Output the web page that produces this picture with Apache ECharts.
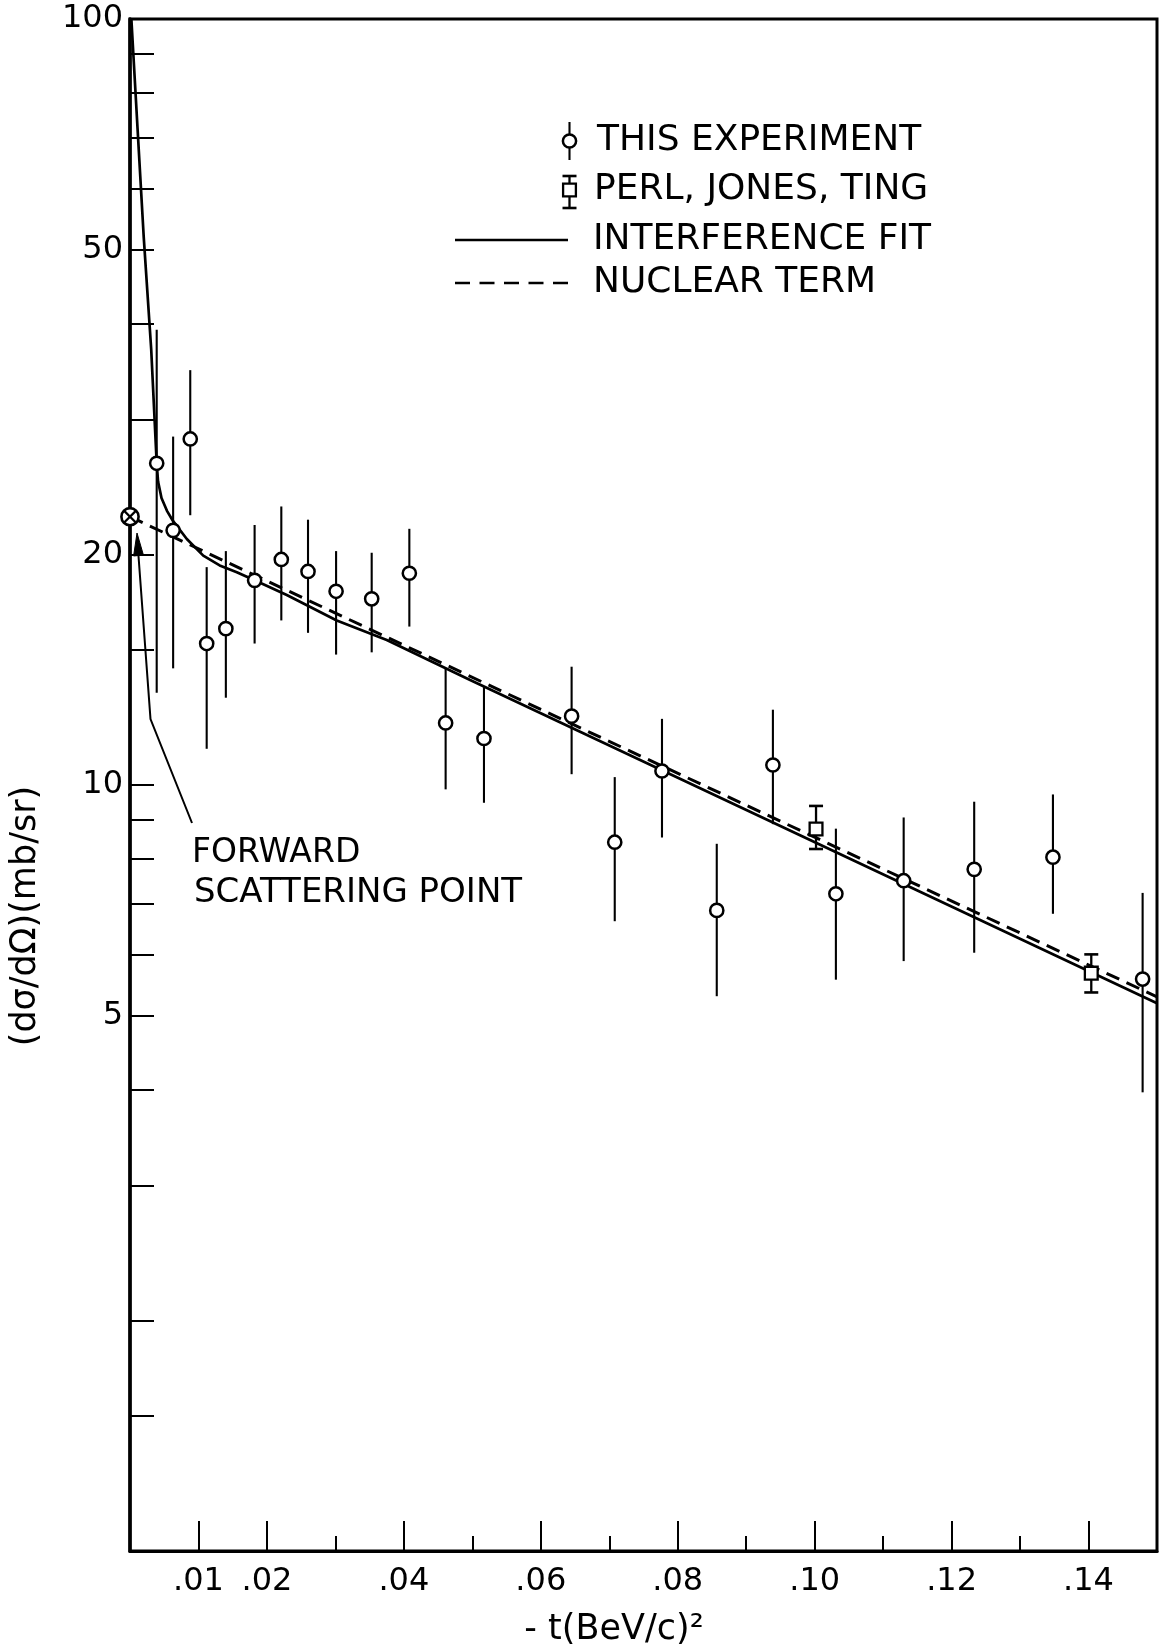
<!DOCTYPE html>
<html>
<head>
<meta charset="utf-8">
<title>dσ/dΩ versus -t</title>
<script src="https://cdn.jsdelivr.net/npm/echarts@6/dist/echarts.min.js"></script>
<style>
  html, body { margin: 0; padding: 0; background: #ffffff; }
  #chart { width: 1160px; height: 1650px; }
</style>
</head>
<body>
<div id="chart"></div>
<script>
// -t in (BeV/c)^2, dσ/dΩ in mb/sr

// This experiment: central value and error-bar ends
const tThis = [0.0039, 0.0063, 0.0088, 0.0112, 0.0140, 0.0182, 0.0221, 0.0260, 0.0301, 0.0353, 0.0408,
               0.0461, 0.0517, 0.0645, 0.0708, 0.0777, 0.0857, 0.0939, 0.1031, 0.1130, 0.1233, 0.1348, 0.1479];
const sigThis = [26.3, 21.5, 28.3, 15.3, 16.0, 18.5, 19.7, 19.0, 17.9, 17.5, 18.9,
                 12.05, 11.5, 12.3, 8.42, 10.43, 6.86, 10.62, 7.21, 7.50, 7.76, 8.05, 5.58];
const sigThisHi = [39.3, 28.5, 34.8, 19.25, 20.2, 21.85, 23.1, 22.2, 20.2, 20.1, 21.6,
                   14.2, 13.45, 14.27, 10.24, 12.2, 8.38, 12.54, 8.77, 9.07, 9.51, 9.72, 7.23];
const sigThisLo = [13.2, 14.2, 22.5, 11.15, 13.0, 15.3, 16.4, 15.8, 14.8, 14.9, 16.1,
                   9.87, 9.48, 10.33, 6.64, 8.54, 5.30, 8.89, 5.57, 5.89, 6.04, 6.79, 3.97];

// Perl, Jones, Ting
const tPerl = [0.1002, 0.1404];
const sigPerl = [8.76, 5.68];
const sigPerlHi = [9.39, 6.01];
const sigPerlLo = [8.25, 5.36];

// Forward scattering point
const tForward = [0];
const sigForward = [22.4];

// Interference fit (solid curve)
const tFit = [0.0002, 0.0011, 0.0020, 0.0031, 0.0039, 0.0041, 0.0046, 0.0054, 0.0063, 0.0083,
              0.0107, 0.0131, 0.0156, 0.0182, 0.0229, 0.0302, 0.0375, 0.0496, 0.15];
const sigFit = [100, 72, 52, 37, 26.3, 24.9, 23.7, 22.8, 22.1, 20.95,
                19.93, 19.35, 18.96, 18.5, 17.7, 16.4, 15.46, 13.72, 5.19];

// Nuclear term (dashed line)
const tNuclear = [0, 0.06, 0.15];
const sigNuclear = [22.4, 12.55, 5.29];

// Axis ticks and labels
const xMajorTicks = [0.01, 0.02, 0.04, 0.06, 0.08, 0.10, 0.12, 0.14];
const xMinorTicks = [0.03, 0.05, 0.07, 0.09, 0.11, 0.13];
const xLabels = [0.01, 0.02, 0.04, 0.06, 0.08, 0.10, 0.12, 0.14];
const yTicks = [1.5, 2, 3, 4, 5, 6, 7, 8, 9, 10, 15, 20, 30, 40, 50, 60, 70, 80, 90];
const yLabels = [5, 10, 20, 50, 100];

const FONT = 'DejaVu Sans';
const INK = '#000000';

const zip = (a, b) => a.map((v, i) => [v, b[i]]);
const zip4 = (a, b, c, d) => a.map((v, i) => [v, b[i], c[i], d[i]]);

const CIRCLE_R = 6.6;
const SQUARE_H = 6.4;

function renderCircleBar(params, api) {
  const p = api.coord([api.value(0), api.value(1)]);
  const lo = api.coord([api.value(0), api.value(2)]);
  const hi = api.coord([api.value(0), api.value(3)]);
  return {
    type: 'group',
    children: [
      { type: 'line', shape: { x1: p[0], y1: hi[1], x2: p[0], y2: lo[1] },
        style: { stroke: INK, lineWidth: 2.1 } },
      { type: 'circle', shape: { cx: p[0], cy: p[1], r: CIRCLE_R },
        style: { fill: '#fff', stroke: INK, lineWidth: 2.5 } }
    ]
  };
}

function renderSquareBar(params, api) {
  const p = api.coord([api.value(0), api.value(1)]);
  const lo = api.coord([api.value(0), api.value(2)]);
  const hi = api.coord([api.value(0), api.value(3)]);
  const h = SQUARE_H, cap = 7;
  return {
    type: 'group',
    children: [
      { type: 'line', shape: { x1: p[0], y1: hi[1], x2: p[0], y2: lo[1] },
        style: { stroke: INK, lineWidth: 2.3 } },
      { type: 'line', shape: { x1: p[0] - cap, y1: hi[1], x2: p[0] + cap, y2: hi[1] },
        style: { stroke: INK, lineWidth: 2.6 } },
      { type: 'line', shape: { x1: p[0] - cap, y1: lo[1], x2: p[0] + cap, y2: lo[1] },
        style: { stroke: INK, lineWidth: 2.6 } },
      { type: 'rect', shape: { x: p[0] - h, y: p[1] - h, width: 2 * h, height: 2 * h },
        style: { fill: '#fff', stroke: INK, lineWidth: 2.3 } }
    ]
  };
}

function renderCrossCircle(params, api) {
  const p = api.coord([api.value(0), api.value(1)]);
  const r = 8.6, d = r * 0.707;
  return {
    type: 'group',
    children: [
      { type: 'circle', shape: { cx: p[0], cy: p[1], r: r },
        style: { fill: '#fff', stroke: INK, lineWidth: 2.6 } },
      { type: 'line', shape: { x1: p[0] - d, y1: p[1] - d, x2: p[0] + d, y2: p[1] + d },
        style: { stroke: INK, lineWidth: 2.2 } },
      { type: 'line', shape: { x1: p[0] - d, y1: p[1] + d, x2: p[0] + d, y2: p[1] - d },
        style: { stroke: INK, lineWidth: 2.2 } }
    ]
  };
}

const chart = echarts.init(document.getElementById('chart'), null, { renderer: 'canvas' });

const labelText = (size) => ({ fontFamily: FONT, fontSize: size, fill: INK });

const option = {
  animation: false,
  backgroundColor: '#ffffff',
  grid: {
    left: 130, right: 3, top: 19, bottom: 99,
    show: true, borderColor: INK, borderWidth: 3, backgroundColor: 'transparent'
  },
  xAxis: [
    {
      type: 'value', min: 0, max: 0.15, position: 'bottom',
      axisLine: { show: true, onZero: false, lineStyle: { color: INK, width: 3 } },
      axisTick: { show: true, inside: true, length: 30, customValues: xMajorTicks,
                  lineStyle: { color: INK, width: 2 } },
      axisLabel: { show: true, customValues: xLabels, margin: 15,
                   fontFamily: FONT, fontSize: 32, color: INK,
                   formatter: v => Number(v).toFixed(2).replace(/^0/, '') },
      splitLine: { show: false }
    },
    {
      type: 'value', min: 0, max: 0.15, position: 'bottom',
      axisLine: { show: false, onZero: false },
      axisTick: { show: true, inside: true, length: 15, customValues: xMinorTicks,
                  lineStyle: { color: INK, width: 2 } },
      axisLabel: { show: false },
      splitLine: { show: false }
    }
  ],
  yAxis: {
    type: 'log', logBase: 10, min: 1, max: 100,
    axisLine: { show: true, onZero: false, lineStyle: { color: INK, width: 3.5 } },
    axisTick: { show: true, inside: true, length: 24, customValues: yTicks,
                lineStyle: { color: INK, width: 2 } },
    axisLabel: { show: true, customValues: yLabels, margin: 7,
                 fontFamily: FONT, fontSize: 32, color: INK,
                 formatter: v => String(Math.round(v)) },
    splitLine: { show: false },
    minorTick: { show: false }
  },
  series: [
    {
      name: 'INTERFERENCE FIT', type: 'line', xAxisIndex: 0,
      data: zip(tFit, sigFit), showSymbol: false, symbol: 'none', smooth: false,
      lineStyle: { color: INK, width: 2.7 }, z: 2
    },
    {
      name: 'NUCLEAR TERM', type: 'line', xAxisIndex: 0,
      data: zip(tNuclear, sigNuclear), showSymbol: false, symbol: 'none',
      lineStyle: { color: INK, width: 3, type: [14, 8] }, z: 2
    },
    {
      name: 'THIS EXPERIMENT', type: 'custom', xAxisIndex: 0,
      data: zip4(tThis, sigThis, sigThisLo, sigThisHi),
      encode: { x: 0, y: [1, 2, 3] },
      renderItem: renderCircleBar, z: 5
    },
    {
      name: 'PERL, JONES, TING', type: 'custom', xAxisIndex: 0,
      data: zip4(tPerl, sigPerl, sigPerlLo, sigPerlHi),
      encode: { x: 0, y: [1, 2, 3] },
      renderItem: renderSquareBar, z: 5
    },
    {
      name: 'FORWARD SCATTERING POINT', type: 'custom', xAxisIndex: 0,
      data: zip(tForward, sigForward),
      encode: { x: 0, y: 1 },
      renderItem: renderCrossCircle, z: 6, clip: false
    }
  ],
  graphic: [
    // Legend
    { type: 'line', shape: { x1: 569.5, y1: 122, x2: 569.5, y2: 160 },
      style: { stroke: INK, lineWidth: 2.1 }, z: 10 },
    { type: 'circle', shape: { cx: 569.5, cy: 141, r: CIRCLE_R },
      style: { fill: '#fff', stroke: INK, lineWidth: 2.5 }, z: 11 },
    { type: 'text', style: Object.assign(labelText(36), { text: 'THIS EXPERIMENT', x: 597, y: 141,
      align: 'left', verticalAlign: 'middle' }), z: 10 },

    { type: 'line', shape: { x1: 569.5, y1: 176, x2: 569.5, y2: 208 },
      style: { stroke: INK, lineWidth: 2.3 }, z: 10 },
    { type: 'line', shape: { x1: 562.5, y1: 176, x2: 576.5, y2: 176 },
      style: { stroke: INK, lineWidth: 2.6 }, z: 10 },
    { type: 'line', shape: { x1: 562.5, y1: 208, x2: 576.5, y2: 208 },
      style: { stroke: INK, lineWidth: 2.6 }, z: 10 },
    { type: 'rect', shape: { x: 569.5 - SQUARE_H, y: 190 - SQUARE_H, width: 2 * SQUARE_H, height: 2 * SQUARE_H },
      style: { fill: '#fff', stroke: INK, lineWidth: 2.3 }, z: 11 },
    { type: 'text', style: Object.assign(labelText(36), { text: 'PERL, JONES, TING', x: 594, y: 190,
      align: 'left', verticalAlign: 'middle' }), z: 10 },

    { type: 'line', shape: { x1: 455, y1: 240, x2: 568, y2: 240 },
      style: { stroke: INK, lineWidth: 2.4 }, z: 10 },
    { type: 'text', style: Object.assign(labelText(36), { text: 'INTERFERENCE FIT', x: 593, y: 240,
      align: 'left', verticalAlign: 'middle' }), z: 10 },

    { type: 'line', shape: { x1: 455, y1: 283, x2: 568, y2: 283 },
      style: { stroke: INK, lineWidth: 2.4, lineDash: [15, 9.5] }, z: 10 },
    { type: 'text', style: Object.assign(labelText(36), { text: 'NUCLEAR TERM', x: 593, y: 283,
      align: 'left', verticalAlign: 'middle' }), z: 10 },

    // Forward scattering point annotation
    { type: 'polyline', shape: { points: [[192, 823], [150.5, 719], [138.5, 556]] },
      style: { stroke: INK, lineWidth: 2, fill: null }, z: 10 },
    { type: 'polygon', shape: { points: [[137, 533], [133.6, 556], [143.4, 555]] },
      style: { fill: INK, stroke: INK, lineWidth: 1 }, z: 10 },
    { type: 'text', style: Object.assign(labelText(33), { text: 'FORWARD', x: 192, y: 853,
      align: 'left', verticalAlign: 'middle' }), z: 10 },
    { type: 'text', style: Object.assign(labelText(34), { text: 'SCATTERING POINT', x: 194, y: 893,
      align: 'left', verticalAlign: 'middle' }), z: 10 },

    // Axis titles
    { type: 'text', x: 26, y: 916, rotation: Math.PI / 2,
      style: Object.assign(labelText(35), { text: '(dσ/dΩ)(mb/sr)', x: 0, y: 0,
      align: 'center', verticalAlign: 'middle' }), z: 10 },
    { type: 'text', style: Object.assign(labelText(35), { text: '- t(BeV/c)²', x: 614, y: 1630,
      align: 'center', verticalAlign: 'middle' }), z: 10 }
  ]
};

chart.setOption(option);
</script>
</body>
</html>
